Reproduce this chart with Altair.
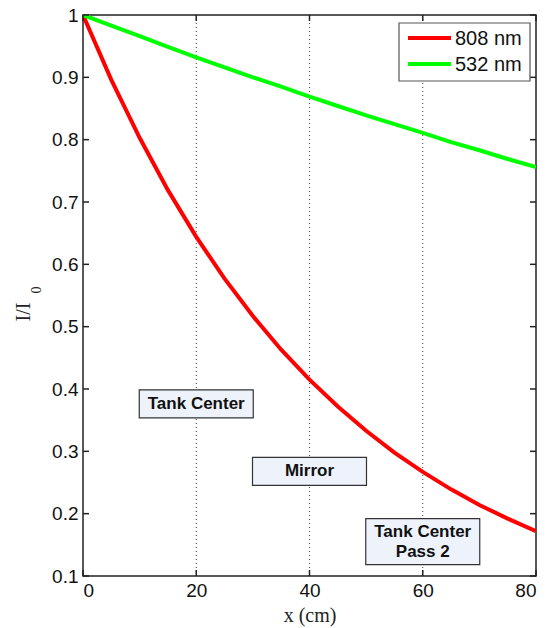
import altair as alt
import pandas as pd

# ---- data ----
x_cm = [0, 5, 10, 15, 20, 25, 30, 35, 40, 45, 50, 55, 60, 65, 70, 75, 80]
i_808 = [1.0, 0.896, 0.803, 0.719, 0.644, 0.577, 0.517, 0.463, 0.415,
         0.372, 0.333, 0.298, 0.267, 0.239, 0.214, 0.192, 0.172]
i_532 = [1.0, 0.983, 0.966, 0.949, 0.932, 0.916, 0.900, 0.885, 0.869,
         0.854, 0.839, 0.825, 0.811, 0.796, 0.783, 0.769, 0.756]
series_names = ["808 nm", "532 nm"]
series_colors = ["#ff0000", "#00ff00"]

x_ticks = [0, 20, 40, 60, 80]
y_ticks = [0.1, 0.2, 0.3, 0.4, 0.5, 0.6, 0.7, 0.8, 0.9, 1.0]
x_grid = [20, 40, 60]

ann_single_text = ["Tank Center", "Mirror"]
ann_single_x = [20, 40]
ann_single_y = [0.376, 0.268]
ann_double_lines = [["Tank Center", "Pass 2"]]
ann_double_x = [60]
ann_double_y = [0.155]

W, H = 453, 561
SANS = "Liberation Sans"
SERIF = "Liberation Serif"

lines_df = pd.DataFrame({
    "x": x_cm * 2,
    "y": i_808 + i_532,
    "series": [series_names[0]] * len(x_cm) + [series_names[1]] * len(x_cm),
})

xscale = alt.Scale(domain=[0, 80], nice=False, zero=False)
yscale = alt.Scale(domain=[0.1, 1.0], nice=False, zero=False)
cscale = alt.Scale(domain=series_names, range=series_colors)

xaxis = alt.Axis(values=x_ticks, format="d", title="x (cm)", grid=False, domain=False,
                 ticks=False, labelFont=SANS, labelFontSize=19, labelColor="#111",
                 labelPadding=5, titleFont=SERIF, titleFontSize=20,
                 titleFontWeight="normal", titleColor="#222", titlePadding=5)
yaxis = alt.Axis(values=y_ticks, title=None, grid=False, domain=False, ticks=False,
                 labelFont=SANS, labelFontSize=19, labelColor="#111", labelPadding=5,
                 labelExpr="datum.value == 1 ? '1' : format(datum.value, '.1f')")

grid = alt.Chart(pd.DataFrame({"x": x_grid})).mark_rule(
    color="#444", strokeDash=[1, 3], strokeWidth=1
).encode(x=alt.X("x:Q", scale=xscale, axis=xaxis))

lines = alt.Chart(lines_df).mark_line(strokeWidth=4, clip=True).encode(
    x=alt.X("x:Q", scale=xscale, axis=xaxis),
    y=alt.Y("y:Q", scale=yscale, axis=yaxis),
    color=alt.Color("series:N", scale=cscale, legend=None),
)

tdf_x = pd.DataFrame({"x": x_ticks})
tdf_y = pd.DataFrame({"y": y_ticks})
tick_bottom = alt.Chart(tdf_x).mark_rule(color="#222", strokeWidth=1.5).encode(
    x=alt.X("x:Q", scale=xscale), y=alt.value(H), y2=alt.value(H - 6))
tick_top = alt.Chart(tdf_x).mark_rule(color="#222", strokeWidth=1.5).encode(
    x=alt.X("x:Q", scale=xscale), y=alt.value(0), y2=alt.value(6))
tick_left = alt.Chart(tdf_y).mark_rule(color="#222", strokeWidth=1.5).encode(
    y=alt.Y("y:Q", scale=yscale), x=alt.value(0), x2=alt.value(6))
tick_right = alt.Chart(tdf_y).mark_rule(color="#222", strokeWidth=1.5).encode(
    y=alt.Y("y:Q", scale=yscale), x=alt.value(W), x2=alt.value(W - 6))

single_df = pd.DataFrame({"t": ann_single_text, "x": ann_single_x, "y": ann_single_y})
double_df = pd.DataFrame({"t": ann_double_lines, "x": ann_double_x, "y": ann_double_y})

box_style = dict(fill="#eef3fb", stroke="#333", strokeWidth=1.2)
box1 = alt.Chart(single_df).mark_rect(xOffset=-57, x2Offset=57, yOffset=-14, y2Offset=14,
                                      **box_style).encode(
    x=alt.X("x:Q", scale=xscale), x2="x:Q",
    y=alt.Y("y:Q", scale=yscale), y2="y:Q")
text1 = alt.Chart(single_df).mark_text(font=SANS, fontSize=17, fontWeight="bold",
                                       color="#111", baseline="middle").encode(
    x=alt.X("x:Q", scale=xscale), y=alt.Y("y:Q", scale=yscale), text="t:N")
box2 = alt.Chart(double_df).mark_rect(xOffset=-57, x2Offset=57, yOffset=-23, y2Offset=23,
                                      **box_style).encode(
    x=alt.X("x:Q", scale=xscale), x2="x:Q",
    y=alt.Y("y:Q", scale=yscale), y2="y:Q")
text2 = alt.Chart(double_df).mark_text(font=SANS, fontSize=17, fontWeight="bold",
                                       color="#111", baseline="middle", lineHeight=20,
                                       dy=-10).encode(
    x=alt.X("x:Q", scale=xscale), y=alt.Y("y:Q", scale=yscale), text="t")

# ---- legend (drawn by hand) ----
leg_box = alt.Chart(pd.DataFrame({"k": [0]})).mark_rect(
    fill="white", stroke="#555", strokeWidth=1.2
).encode(x=alt.value(316), x2=alt.value(447), y=alt.value(8), y2=alt.value(66))
legend_layers = [leg_box]
for i, (name, col) in enumerate(zip(series_names, series_colors)):
    row = pd.DataFrame({"series": [name]})
    legend_layers.append(alt.Chart(row).mark_rule(strokeWidth=4, color=col).encode(
        x=alt.value(325), x2=alt.value(368), y=alt.value(23 + 26 * i)))
    legend_layers.append(alt.Chart(row).mark_text(
        font=SANS, fontSize=20, align="left", baseline="middle", color="#111"
    ).encode(x=alt.value(372), y=alt.value(24 + 26 * i), text="series:N"))

ytitle_df = pd.DataFrame({"main": ["I/I"], "sub": ["0"]})
ytitle_main = alt.Chart(ytitle_df).mark_text(font=SERIF, fontSize=20, angle=270,
                                             color="#222").encode(
    x=alt.value(-59), y=alt.value(297), text="main:N")
ytitle_sub = alt.Chart(ytitle_df).mark_text(font=SERIF, fontSize=14, angle=270,
                                            color="#222").encode(
    x=alt.value(-46), y=alt.value(275), text="sub:N")

chart = alt.layer(
    grid, lines, tick_bottom, tick_top, tick_left, tick_right,
    box1, text1, box2, text2, *legend_layers, ytitle_main, ytitle_sub
).properties(
    width=W, height=H,
    autosize=alt.AutoSizeParams(type="none"),
    padding={"left": 83, "top": 15, "right": 11, "bottom": 52},
    background="white",
).configure_view(stroke="#222", strokeWidth=1.5)

chart.save("out.html", embed_options={"renderer": "svg", "actions": False})
